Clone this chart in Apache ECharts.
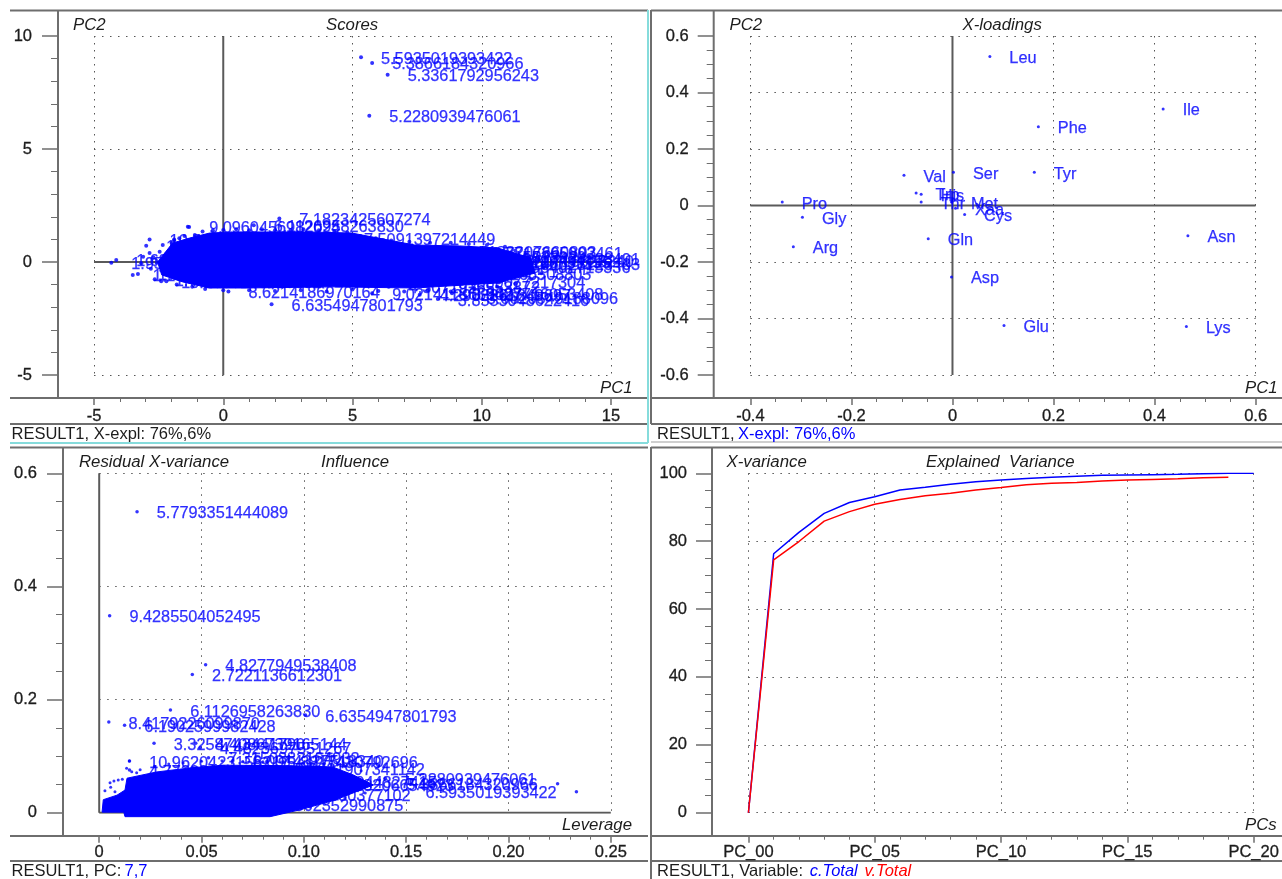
<!DOCTYPE html>
<html>
<head>
<meta charset="utf-8">
<style>html,body{margin:0;padding:0;background:#fff}#c{width:1282px;height:879px}</style>
<script src="https://cdn.jsdelivr.net/npm/echarts@6/dist/echarts.min.js"></script>
</head>
<body>
<div id="c"></div>
<script>
// ---------- Scores (top left): labelled samples
const scoresPC1 = [5.33,5.76,6.36,5.65,1.87,2.17,-1.32,1.18,4.67,-2.85,-4.33,-4.14,-3.5,-3.3,-2.65,-2.98,-3.1,-3.17,0.2,5.76,8.3,8.85,9.42,6.4,8.15,8.39,8.58,8.18,10.27,10.27,10.03,9.6,9.2,9.9,7.6,-1.9,-2.4];
const scoresPC2 = [9.06,8.81,8.29,6.47,-1.87,1.93,1.55,1.63,1.05,1.0,-0.03,0.09,-0.57,-0.53,-0.76,0.72,0.23,-0.05,-1.31,-1.38,-1.64,-1.38,-1.58,-1.09,-0.87,-0.5,0.46,0.24,0.16,-0.06,0.06,0.4,0.0,-0.22,-1.45,1.0,-0.85];
const scoresNames = ["5.5935019393422","5.3866184320966","5.3361792956243","5.2280939476061","6.6354947801793","7.1823425607274","9.0960456982024","6.1126958263830","7.5091397214449","10.9975268133140","1.9523071184526","1.6204439170582","1.1847025309613","1.3316840925177","1.4759102386640","1.8820463157291","1.2094775630218","1.7360928145403","8.6214186970164","9.0214118653027","3.8553048622416","3.9427716053408","3.6620549188096","4.3071926553872","4.1539077217304","3.7240166508805","3.5188207660803","3.8402915533020","3.2917404828491","3.4106628128403","3.5830716628240","3.7716305992461","3.6049128731155","3.9158402715336","4.2903361849697","10.4127730659148","10.2086145723391"];
// Scores: hand-read outline of the solid mass and scattered rim points
const scoresBlobX = [-2.54,-1.96,-1.3,-0.53,0.36,1.68,3.34,4.98,7.41,9.15,10.62,11.9,12.06,10.62,7.41,4.2,0.9,-0.53,-1.57,-2.38];
const scoresBlobY = [0,0.84,1.06,1.28,1.33,1.33,1.33,1.28,0.75,0.71,0.62,0.18,-0.49,-0.93,-1.15,-1.1,-1.15,-1.15,-0.88,-0.57];
const scoresRimX = [-2.46,-2.34,-2.0,-2.85,-1.37,-1.9,-1.7,-1.5,-1.1,-0.8,-0.4,0,0.5,1,1.5,2,2.6,3.1,3.7,4.3,4.8,5.3,5.9,6.5,7.2,8,8.8,9.5,10.2,10.9,11.3,11.7,12.2,12.4,12.3,11.9,11.3,10.6,9.7,8.8,7.9,7,6,5,4,3,2,1,0,-0.7,-1.2,-1.8,-2.2,-2.8,-2.7];
const scoresRimY = [0.45,0.75,0.84,0.4,1.56,0.95,1.05,1.15,1.2,1.35,1.4,1.42,1.45,1.4,1.45,1.4,1.42,1.45,1.4,1.35,1.3,1.15,1.05,0.95,0.9,0.85,0.85,0.8,0.75,0.68,0.5,0.35,0.1,-0.2,-0.5,-0.75,-0.95,-1.1,-1.2,-1.3,-1.25,-1.3,-1.28,-1.22,-1.3,-1.25,-1.28,-1.25,-1.25,-1.2,-1.1,-1,-0.85,-0.3,0.2];

// ---------- X-loadings (top right)
const loadNames = ["Leu","Ile","Phe","Tyr","Ser","Val","Pro","Gly","Arg","Gln","Asp","Glu","Asn","Lys","Cys","Xaa","Met","Trp","His","Thr"];
const loadPC1 = [0.074,0.417,0.17,0.162,0.002,-0.096,-0.337,-0.297,-0.315,-0.048,-0.002,0.102,0.466,0.463,0.024,0.006,-0.002,-0.072,-0.062,-0.062];
const loadPC2 = [0.527,0.342,0.279,0.118,0.118,0.107,0.012,-0.042,-0.146,-0.118,-0.253,-0.425,-0.107,-0.428,-0.032,-0.01,0.012,0.044,0.04,0.012];

// ---------- Influence (bottom left)
const inflLev = [0.0185,0.0051,0.052,0.0455,0.0348,0.1008,0.0047,0.0124,0.0268,0.0494,0.0472,0.0148,0.0534,0.0819,0.0859,0.1398,0.0148,0.0784,0.0748,0.0653,0.0912,0.0995];
const inflRes = [0.532,0.348,0.2616,0.2445,0.1815,0.1727,0.1603,0.1544,0.1226,0.115,0.1226,0.0913,0.0972,0.0907,0.0777,0.0607,0.0754,0.033,0.0148,0.0919,0.055,0.049];
const inflNames = ["5.7793351444089","9.4285504052495","4.8277949538408","2.7221136612301","6.1126958263830","6.6354947801793","8.4179226099870","6.1902599982428","3.3258743441790","4.4823697551267","4.4086739165144","10.9620423158217","7.3150882164932","5.8817430792696","5.6621907341142","5.2280939476061","4.7730915406628","8.3912630377102","7.5502352990875","6.0914327518340","5.0163944827415","5.1738206654923"];
const inflFlipLev = [0.224,0.2332];
const inflFlipRes = [0.051,0.037];
const inflFlipNames = ["5.3866184320966","6.5935019393422"];
const inflBlobX = [0.0014,0.002,0.0087,0.0126,0.0136,0.028,0.044,0.0605,0.093,0.114,0.124,0.134,0.115,0.098,0.0835,0.0126,0.012];
const inflBlobY = [0.001,0.023,0.031,0.04,0.061,0.072,0.079,0.084,0.083,0.081,0.067,0.049,0.022,0.005,-0.007,-0.007,0.001];
const inflRimX = [0.0147,0.0134,0.0159,0.0183,0.0053,0.0072,0.0093,0.0113,0.0028,0.0056,0.0077,0.02,0.027,0.034,0.041,0.05,0.06,0.07,0.08,0.09,0.1,0.11,0.12,0.128,0.137,0.13,0.12,0.11,0.103,0.092];
const inflRimY = [0.0914,0.0785,0.0725,0.0707,0.053,0.056,0.0578,0.059,0.0389,0.0449,0.0371,0.076,0.082,0.086,0.088,0.091,0.092,0.09,0.09,0.09,0.088,0.087,0.082,0.074,0.058,0.035,0.026,0.015,0.01,-0.005];

// ---------- Explained variance (bottom right)
const pcIndex = [0,1,2,3,4,5,6,7,8,9,10,11,12,13,14,15,16,17,18,19,20];
const calTotal = [0,76.3,82.6,88.2,91.4,93.1,95.1,95.9,96.8,97.5,98,98.5,98.8,99.1,99.4,99.5,99.6,99.7,99.85,100,100];
const valTotal = [0,74.5,79.9,85.9,88.7,90.9,92.3,93.4,94.1,95.1,95.8,96.6,97.1,97.3,97.7,98,98.2,98.4,98.7,98.8];
const pcTickLabels = {0:"PC_00",5:"PC_05",10:"PC_10",15:"PC_15",20:"PC_20"};

// ---------- Styles and layout
const FONT = '"Liberation Sans", Arial, sans-serif';
const BLUE = '#0000ff', RED = '#ff0000', INK = '#1c1c1c', FRAME = '#6e6e6e', CYAN = '#86dcdc';

function xAxis(gridIndex, min, max, interval, split, margin, formatter) {
  return {
    type: 'value', gridIndex, min, max, interval, position: 'bottom', offset: 23,
    axisLine: { show: false, onZero: false },
    axisTick: { show: true, length: 7, inside: false, lineStyle: { color: FRAME, width: 1.5 } },
    minorTick: { show: true, splitNumber: split, length: 4, lineStyle: { color: FRAME, width: 1 } },
    axisLabel: { color: INK, fontSize: 16.5, fontFamily: FONT, margin, showMinLabel: true, showMaxLabel: true, textBorderColor: INK, textBorderWidth: 0.3, formatter },
    splitLine: { show: true, lineStyle: { color: '#555', type: [1.5, 5.5], width: 1 } },
    minorSplitLine: { show: false }
  };
}
function yAxis(gridIndex, min, max, interval, split, offset, margin, formatter) {
  return {
    type: 'value', gridIndex, min, max, interval, position: 'left', offset,
    axisLine: { show: false, onZero: false },
    axisTick: { show: true, length: 16, lineStyle: { color: FRAME, width: 1.5 } },
    minorTick: { show: true, splitNumber: split, length: 7, lineStyle: { color: FRAME, width: 1 } },
    axisLabel: { color: INK, fontSize: 16.5, fontFamily: FONT, margin, padding: [2, 0, 0, 0], showMinLabel: true, showMaxLabel: true, textBorderColor: INK, textBorderWidth: 0.3, formatter },
    splitLine: { show: true, lineStyle: { color: '#555', type: [1.5, 6.5], width: 1 } },
    minorSplitLine: { show: false }
  };
}
const trim = v => String(v);
const fix1 = v => (v === 0 ? '0' : v.toFixed(1));
const fix2 = v => (v === 0 ? '0' : v.toFixed(2));

const zip = (a, b) => a.map((v, i) => [v, b[i]]);
const zip3 = (a, b, c) => a.map((v, i) => [v, b[i], c[i]]);

function zeroLine(idx, pts) {
  return {
    type: 'line', xAxisIndex: idx, yAxisIndex: idx, data: pts, showSymbol: false, silent: true, z: 3,
    lineStyle: { color: '#5a5a5a', width: 2 }
  };
}
function labelled(idx, data, position, size) {
  return {
    type: 'scatter', xAxisIndex: idx, yAxisIndex: idx, data, symbolSize: size, z: 5,
    itemStyle: { color: BLUE },
    label: {
      show: true, position, distance: 18, color: BLUE, fontSize: 16.3, fontFamily: FONT,
      textBorderColor: BLUE, textBorderWidth: 0.25,
      formatter: p => p.value[2]
    },
    labelLayout: { hideOverlap: false, dy: 2 }
  };
}
function dots(idx, data, size) {
  return { type: 'scatter', xAxisIndex: idx, yAxisIndex: idx, data, symbolSize: size, z: 5, itemStyle: { color: BLUE } };
}
function blob(idx, xs, ys) {
  return {
    type: 'custom', xAxisIndex: idx, yAxisIndex: idx, data: [0], z: 4, silent: true,
    renderItem: (params, api) => ({
      type: 'polygon',
      shape: { points: xs.map((x, i) => api.coord([x, ys[i]])) },
      style: { fill: BLUE, stroke: BLUE, lineWidth: 1 }
    })
  };
}

const frameLines = [
  // panel 1
  [10,10.5,648,10.5,FRAME],[58,10,58,398,FRAME],[10,398,648,398,FRAME],[10,424,648,424,FRAME],
  [648,10,648,443,CYAN],[10,443,648,443,CYAN],
  // panel 2
  [651,10.5,1282,10.5,FRAME],[651,10,651,424,FRAME],[713.7,10,713.7,398,FRAME],[651,398,1282,398,FRAME],[651,424,1282,424,FRAME],[651,442,1282,442,'#cfcfcf'],
  // panel 3
  [10,447.5,648,447.5,FRAME],[63,447,63,836,FRAME],[10,836,648,836,FRAME],[10,861,648,861,FRAME],
  // panel 4
  [651,447.5,1282,447.5,FRAME],[651,447,651,879,FRAME],[712,447,712,836,FRAME],[651,836,1282,836,FRAME],[651,861,1282,861,FRAME]
];
const italicTexts = [
  ["PC2",73,25],["Scores",326,25],["PC1",600,388],
  ["PC2",729.5,25],["X-loadings",962.5,25],["PC1",1245,388],
  ["Residual X-variance",79,462.5],["Influence",321,462.5],["Leverage",562,825],
  ["X-variance",726.5,462.5],["Explained  Variance",926,462.5],["PCs",1245,825]
];
const statusRich = {
  k: { fill: INK, fontSize: 16.5, fontFamily: FONT },
  b: { fill: BLUE, fontSize: 16.5, fontFamily: FONT },
  ci: { fill: BLUE, fontSize: 16.5, fontFamily: FONT, fontStyle: 'italic' },
  ri: { fill: RED, fontSize: 16.5, fontFamily: FONT, fontStyle: 'italic' }
};
const statusTexts = [
  ["{k|RESULT1, X-expl: 76%,6%}",11.5,434],
  ["{k|RESULT1,} {b|X-expl: 76%,6%}",657,434],
  ["{k|RESULT1, PC:} {b|7,7}",11.5,871.5],
  ["{k|RESULT1, Variable:}  {ci|c.Total}  {ri|v.Total}",657,871.5]
];

const graphic = [];
frameLines.forEach(l => graphic.push({
  type: 'line', silent: true, z: -1,
  shape: { x1: l[0], y1: l[1], x2: l[2], y2: l[3] },
  style: { stroke: l[4], lineWidth: 2 }
}));
italicTexts.forEach(t => graphic.push({
  type: 'text', silent: true, z: 10, x: t[1], y: t[2],
  style: { text: t[0], fill: INK, font: 'italic 16.8px ' + FONT, verticalAlign: 'middle' }
}));
statusTexts.forEach(t => graphic.push({
  type: 'text', silent: true, z: 10, x: t[1], y: t[2],
  style: { text: t[0], rich: statusRich, verticalAlign: 'middle' }
}));

const option = {
  animation: false,
  backgroundColor: '#ffffff',
  grid: [
    { left: 94, top: 36, width: 517, height: 339 },
    { left: 750.4, top: 36, width: 505.2, height: 339 },
    { left: 99.2, top: 473.3, width: 511.6, height: 339.4 },
    { left: 748.4, top: 473.3, width: 506.6, height: 339.4 }
  ],
  xAxis: [
    xAxis(0, -5, 15, 5, 5, 10, trim),
    xAxis(1, -0.4, 0.6, 0.2, 4, 10, fix1),
    xAxis(2, 0, 0.25, 0.05, 5, 8, fix2),
    xAxis(3, 0, 20, 5, 5, 8, v => pcTickLabels[v])
  ],
  yAxis: [
    yAxis(0, -5, 10, 5, 5, 36, 26, trim),
    yAxis(1, -0.6, 0.6, 0.2, 4, 36.7, 25, fix1),
    yAxis(2, 0, 0.6, 0.2, 4, 36.2, 26, fix1),
    yAxis(3, 0, 100, 20, 4, 36.4, 25, trim)
  ],
  series: [
    zeroLine(0, [[-5,0],[15,0]]), zeroLine(0, [[0,-5],[0,10]]),
    blob(0, scoresBlobX, scoresBlobY),
    dots(0, zip(scoresRimX, scoresRimY), 4),
    labelled(0, zip3(scoresPC1, scoresPC2, scoresNames), 'right', 4),

    zeroLine(1, [[-0.4,0],[0.6,0]]), zeroLine(1, [[0,-0.6],[0,0.6]]),
    labelled(1, zip3(loadPC1, loadPC2, loadNames), 'right', 3),

    zeroLine(2, [[0,0],[0.25,0]]), zeroLine(2, [[0,0],[0,0.6]]),
    blob(2, inflBlobX, inflBlobY),
    dots(2, zip(inflRimX, inflRimY), 3),
    labelled(2, zip3(inflLev, inflRes, inflNames), 'right', 3.5),
    labelled(2, zip3(inflFlipLev, inflFlipRes, inflFlipNames), 'left', 3.5),

    { type: 'line', name: 'c.Total', xAxisIndex: 3, yAxisIndex: 3, data: zip(pcIndex, calTotal), showSymbol: false, z: 5, lineStyle: { color: BLUE, width: 1.5 } },
    { type: 'line', name: 'v.Total', xAxisIndex: 3, yAxisIndex: 3, data: zip(pcIndex, valTotal), showSymbol: false, z: 6, lineStyle: { color: RED, width: 1.5 } }
  ],
  graphic
};
echarts.init(document.getElementById('c'), null, { renderer: 'canvas' }).setOption(option);
</script>
</body>
</html>
